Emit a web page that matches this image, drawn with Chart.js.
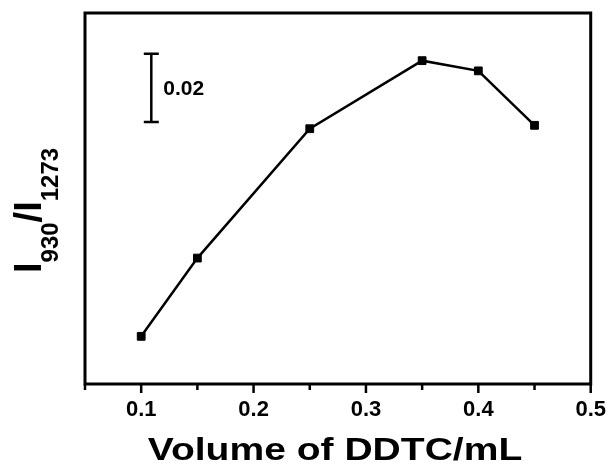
<!DOCTYPE html>
<html>
<head>
<meta charset="utf-8">
<script src="https://cdn.jsdelivr.net/npm/chart.js@4/dist/chart.umd.min.js"></script>
<style>
  body { margin: 0; background: #fff; }
  #wrap { width: 611px; height: 474px; position: relative; }
</style>
</head>
<body>
<div id="wrap"><canvas id="ddtcChart"></canvas></div>
<script>
// data
const volumes = [0.1, 0.15, 0.25, 0.35, 0.4, 0.45];
const ratios = [0.314, 0.337, 0.375, 0.395, 0.392, 0.376];
const xTickLabels = ['0.1', '0.2', '0.3', '0.4', '0.5'];
const scaleBarX = [0.109, 0.109];
const scaleBarY = [0.377, 0.397];
const scaleBarLabel = '0.02';

const FONT = '"Liberation Sans", Arial, sans-serif';

/* =============================================================*/
// frame, ticks, titles and scale bar text
const decorPlugin = {
  id: 'decor',
  afterDraw(chart) {
    const ctx = chart.ctx;
    const area = chart.chartArea;
    const xs = chart.scales.x;
    const ys = chart.scales.y;
    ctx.save();
    ctx.strokeStyle = '#000';
    ctx.lineWidth = 3;
    ctx.strokeRect(area.left, area.top, area.right - area.left, area.bottom - area.top);

    // tick marks outside, major every 0.1
    ctx.lineWidth = 2.5;
    xs.ticks.forEach((t) => {
      const px = xs.getPixelForValue(t.value);
      const major = Math.abs(t.value * 10 - Math.round(t.value * 10)) < 1e-6;
      ctx.beginPath();
      ctx.moveTo(px, area.bottom);
      ctx.lineTo(px, area.bottom + (major ? 9 : 6));
      ctx.stroke();
    });

    // scale bar label
    ctx.fillStyle = '#000';
    ctx.font = 'bold 21px ' + FONT;
    ctx.textBaseline = 'middle';
    ctx.textAlign = 'left';
    const midY = ys.getPixelForValue((scaleBarY[0] + scaleBarY[1]) / 2);
    ctx.fillText(scaleBarLabel, xs.getPixelForValue(scaleBarX[0]) + 12, midY + 1);

    // x title, a bit wider than the plain font
    ctx.save();
    ctx.textAlign = 'center';
    ctx.textBaseline = 'alphabetic';
    ctx.font = 'bold 32px ' + FONT;
    ctx.translate(335, 460);
    ctx.scale(1.22, 1);
    ctx.fillText('Volume of DDTC/mL', 0, 0);
    ctx.restore();

    // y title with subscripts
    ctx.translate(41, 273);
    ctx.rotate(-Math.PI / 2);
    ctx.textAlign = 'left';
    ctx.textBaseline = 'alphabetic';
    const parts = [['I', false], ['930', true], ['/I', false], ['1273', true]];
    let pos = 0;
    parts.forEach((p) => {
      ctx.font = p[1] ? 'bold 24px ' + FONT : 'bold 38px ' + FONT;
      ctx.fillText(p[0], pos, p[1] ? 17 : 0);
      pos += ctx.measureText(p[0]).width;
    });
    ctx.restore();
  }
};

new Chart('ddtcChart', {
  type: 'line',
  data: {
    datasets: [{
      data: volumes.map((v, i) => ({ x: v, y: ratios[i] })),
      borderColor: '#000',
      backgroundColor: '#000',
      borderWidth: 2.5,
      pointStyle: 'rect',
      pointRadius: 5.5,
      pointBorderWidth: 1,
      tension: 0
    }, {
      // 0.02 scale bar
      data: scaleBarX.map((v, i) => ({ x: v, y: scaleBarY[i] })),
      borderColor: '#000',
      backgroundColor: '#000',
      borderWidth: 2.5,
      pointStyle: 'line',
      pointRadius: 7.5,
      pointBorderWidth: 2.5
    }]
  },
  options: {
    responsive: true,
    maintainAspectRatio: false,
    animation: false,
    layout: { padding: { left: 85, top: 13, right: 20, bottom: 0 } },
    plugins: {
      legend: { display: false },
      tooltip: { enabled: false }
    },
    scales: {
      x: {
        type: 'linear',
        min: 0.05,
        max: 0.5,
        grid: { display: false },
        border: { display: false },
        afterFit: (scale) => { scale.height = 90; },
        ticks: {
          stepSize: 0.05,
          autoSkip: false,
          maxRotation: 0,
          padding: 5,
          color: '#000',
          font: { family: FONT, size: 22, weight: 'bold' },
          callback: (value) => {
            const lbl = value.toFixed(1);
            const onTenth = Math.abs(value * 10 - Math.round(value * 10)) < 1e-6;
            return onTenth && xTickLabels.includes(lbl) ? lbl : '';
          }
        }
      },
      y: {
        display: false,
        min: 0.30,
        max: 0.409
      }
    }
  },
  plugins: [decorPlugin]
});
</script>
</body>
</html>
